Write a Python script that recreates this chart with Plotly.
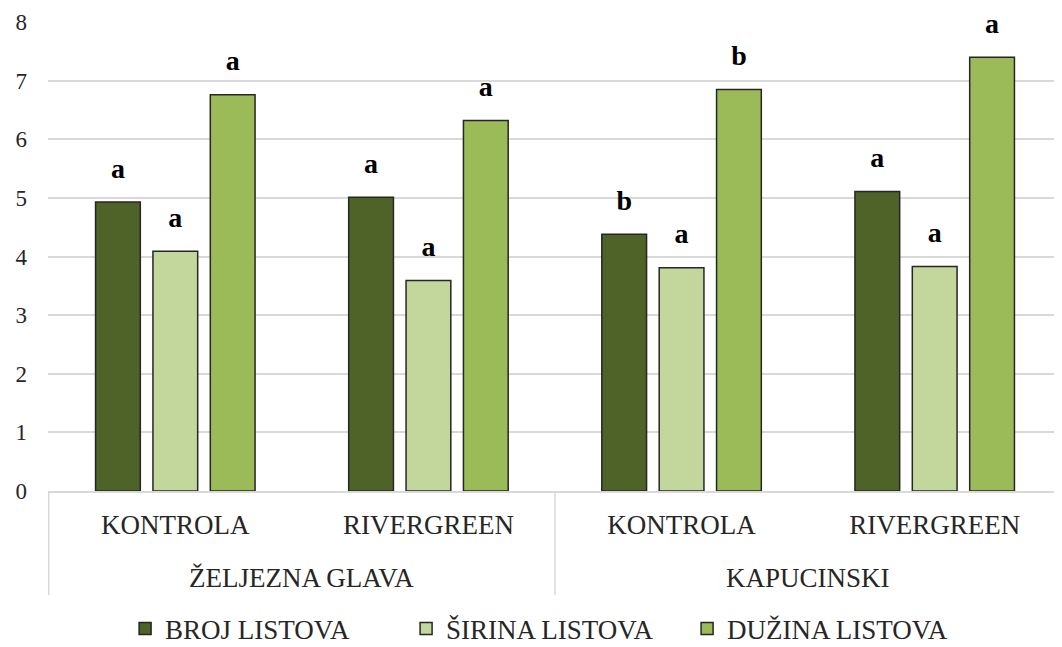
import plotly.graph_objects as go

groups = ["ŽELJEZNA GLAVA", "KAPUCINSKI"]
treatments = ["KONTROLA", "RIVERGREEN"]
categories = [g + " | " + t for g in groups for t in treatments]
cat_labels = [t for g in groups for t in treatments]

series_names = ["BROJ LISTOVA", "ŠIRINA LISTOVA", "DUŽINA LISTOVA"]
broj = [4.93, 5.01, 4.38, 5.11]
sirina = [4.09, 3.59, 3.81, 3.83]
duzina = [6.76, 6.32, 6.85, 7.40]

broj_letters = ["a", "a", "b", "a"]
sirina_letters = ["a", "a", "a", "a"]
duzina_letters = ["a", "a", "b", "a"]

colors = ["#4F6228", "#C3D69B", "#9BBB59"]

FONT = "Liberation Serif, Times New Roman, serif"
TXT = "#262626"

# the page body adds an 8px offset, so the figure is sized to the remaining view
W, H = 1054, 639

fig = go.Figure()
for name, vals, col in zip(series_names, [broj, sirina, duzina], colors):
    fig.add_trace(go.Bar(
        x=categories, y=vals, name=name, offsetgroup=name,
        marker=dict(color=col, line=dict(color="#262626", width=1.5)),
    ))
for name, vals, letters in zip(series_names, [broj, sirina, duzina],
                               [broj_letters, sirina_letters, duzina_letters]):
    fig.add_trace(go.Scatter(
        x=categories, y=vals, mode="markers+text", text=letters, offsetgroup=name,
        textposition="top center", showlegend=False, hoverinfo="skip",
        marker=dict(size=26, opacity=0), cliponaxis=False,
        textfont=dict(family=FONT, size=28, color="#000000", weight="bold"),
    ))

# group labels and dividers of the two-level category axis
n_per = len(treatments)
annotations = []
shapes = []
for gi, g in enumerate(groups):
    center = gi * n_per + (n_per - 1) / 2
    annotations.append(dict(x=center, xref="x", y=-0.1855, yref="paper",
                            text=g, showarrow=False, yanchor="middle",
                            font=dict(family=FONT, size=27, color=TXT)))
for b in range(len(groups) + 1):
    xb = b * n_per - 0.5
    shapes.append(dict(type="line", xref="x", yref="paper", x0=xb, x1=xb, y0=0, y1=-0.222,
                       line=dict(color="#D9D9D9", width=1.5)))

fig.update_layout(
    width=W, height=H,
    margin=dict(l=40, r=0, t=14, b=156),
    paper_bgcolor="white", plot_bgcolor="white",
    barmode="group", scattermode="group",
    bargap=0.32, bargroupgap=0.22,
    font=dict(family=FONT, size=27, color=TXT),
    showlegend=True,
    legend=dict(orientation="h", x=0.511, xanchor="center", xref="container",
                y=18 / H, yanchor="middle", yref="container",
                font=dict(family=FONT, size=27, color=TXT),
                itemwidth=30, traceorder="normal",
                entrywidth=236, entrywidthmode="pixels"),
    annotations=annotations, shapes=shapes,
)
fig.update_yaxes(range=[0, 8], dtick=1, showgrid=True, gridcolor="#D9D9D9", gridwidth=1.5,
                 zeroline=False, showline=False, ticks="", automargin=False,
                 ticklabelstandoff=20,
                 tickfont=dict(family=FONT, size=23, color=TXT))
fig.update_xaxes(type="category", showline=True, linecolor="#D9D9D9", linewidth=1.5,
                 ticks="", automargin=False, tickvals=categories, ticktext=cat_labels,
                 ticklabelstandoff=9,
                 tickfont=dict(family=FONT, size=27, color=TXT))

fig.write_html("out.html")
